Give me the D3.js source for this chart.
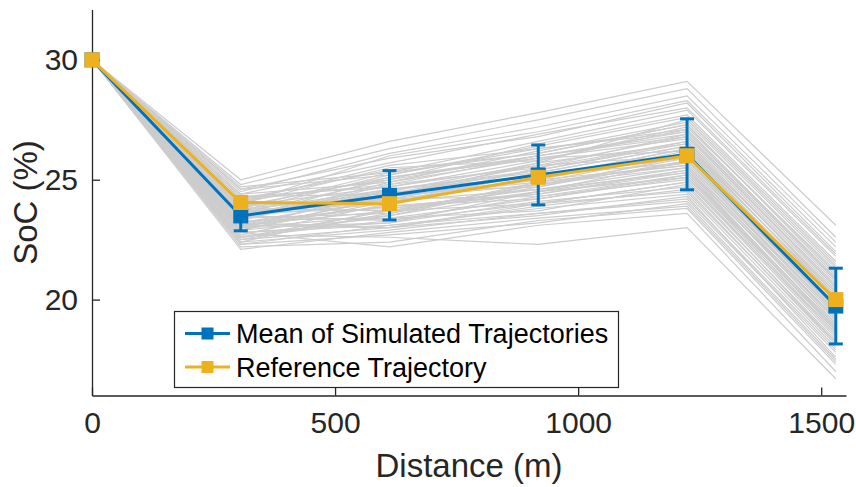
<!DOCTYPE html>
<html>
<head>
<meta charset="utf-8">
<script src="https://cdn.jsdelivr.net/npm/d3@7/dist/d3.min.js"></script>
<style>
  html, body { margin: 0; padding: 0; background: #fff; }
  svg { display: block; font-family: "Liberation Sans", Arial, Helvetica, sans-serif; }
</style>
</head>
<body>
<svg id="chart" width="856" height="487"></svg>
<script>
// Distance along the route (m) at each checkpoint
const distance = [0, 306, 612, 918, 1224, 1530];

// Mean SoC of the simulated runs and its standard deviation
const meanSoC = [30, 23.49, 24.35, 25.2, 26.06, 19.73];
const stdSoC  = [0, 0.62, 1.03, 1.25, 1.48, 1.58];

// Reference SoC trajectory
const refSoC = [30, 24.05, 24.0, 25.1, 26.0, 20.0];

// Individual simulated SoC trajectories (%)
const simulated = [
  [30, 23.5, 24.6, 25.3, 26.4, 20.1],
  [30, 22.8, 23.2, 24.5, 25.1, 18.6],
  [30, 24.2, 25.4, 26.1, 27.3, 21.0],
  [30, 23.1, 23.9, 24.2, 25.2, 18.9],
  [30, 22.4, 22.9, 23.6, 24.1, 17.8],
  [30, 24.6, 25.9, 26.8, 28.2, 22.0],
  [30, 23.8, 24.3, 25.7, 26.5, 20.3],
  [30, 22.6, 23.7, 24.0, 24.9, 18.4],
  [30, 23.3, 24.8, 25.5, 26.9, 20.5],
  [30, 24.0, 24.1, 25.0, 25.6, 19.2],
  [30, 22.2, 22.4, 23.3, 23.8, 17.3],
  [30, 23.7, 25.2, 26.4, 27.6, 21.5],
  [30, 23.0, 23.5, 24.8, 25.9, 19.6],
  [30, 24.4, 24.9, 25.9, 26.2, 19.9],
  [30, 22.9, 24.1, 24.6, 25.5, 19.0],
  [30, 23.6, 23.8, 24.4, 25.3, 18.7],
  [30, 25.0, 26.6, 27.8, 29.1, 23.1],
  [30, 23.2, 23.0, 23.9, 24.6, 18.1],
  [30, 22.5, 23.6, 24.9, 26.1, 19.8],
  [30, 24.1, 25.6, 26.3, 27.0, 20.8],
  [30, 23.4, 24.5, 24.7, 25.8, 19.4],
  [30, 22.7, 22.6, 22.3, 23.0, 16.7],
  [30, 23.9, 24.7, 25.8, 27.1, 20.9],
  [30, 23.0, 24.2, 25.2, 25.7, 19.3],
  [30, 24.3, 24.4, 25.4, 26.6, 20.2],
  [30, 22.3, 23.1, 23.8, 24.4, 18.0],
  [30, 23.6, 25.0, 26.0, 26.8, 20.6],
  [30, 24.7, 25.3, 26.6, 27.9, 21.8],
  [30, 22.9, 23.4, 23.7, 24.8, 18.2],
  [30, 23.5, 24.0, 25.1, 26.3, 19.9],
  [30, 23.1, 24.4, 25.6, 26.0, 19.5],
  [30, 24.0, 25.5, 25.8, 27.2, 21.2],
  [30, 22.1, 22.8, 23.4, 23.9, 17.4],
  [30, 23.8, 23.7, 24.5, 25.4, 18.8],
  [30, 23.3, 24.9, 26.2, 27.4, 21.3],
  [30, 22.6, 23.3, 24.3, 25.0, 18.5],
  [30, 24.5, 26.1, 27.2, 28.5, 22.4],
  [30, 23.2, 24.3, 24.9, 25.6, 19.1],
  [30, 22.8, 22.2, 23.1, 23.6, 17.0],
  [30, 23.9, 25.1, 25.9, 26.7, 20.4],
  [30, 23.4, 23.6, 24.7, 26.0, 19.6],
  [30, 24.2, 24.8, 26.0, 26.9, 20.7],
  [30, 22.4, 23.8, 24.6, 25.3, 18.9],
  [30, 23.7, 24.6, 25.4, 26.5, 20.0],
  [30, 23.0, 23.2, 24.1, 24.7, 18.3],
  [30, 24.8, 26.3, 27.5, 28.8, 22.6],
  [30, 23.5, 24.2, 24.3, 25.2, 18.7],
  [30, 22.7, 24.0, 25.3, 26.4, 20.1],
  [30, 23.6, 24.5, 25.7, 27.5, 21.4],
  [30, 23.1, 23.0, 23.5, 24.3, 17.6],
  [30, 23.9, 24.2, 24.8, 25.5, 19.0],
  [30, 22.5, 23.0, 24.0, 24.9, 18.6],
  [30, 24.1, 25.0, 26.5, 27.7, 21.6],
  [30, 23.3, 23.4, 24.2, 25.1, 18.8],
  [30, 22.9, 24.3, 25.0, 26.2, 20.0],
  [30, 24.4, 25.7, 26.9, 28.0, 21.9],
  [30, 23.6, 24.4, 25.2, 25.9, 19.5],
  [30, 22.3, 22.7, 23.2, 24.0, 17.5],
  [30, 23.8, 25.3, 26.1, 27.3, 21.1],
  [30, 23.2, 23.9, 24.4, 25.4, 19.2],
  [30, 24.6, 25.2, 26.3, 27.1, 20.9],
  [30, 23.0, 24.6, 25.1, 26.3, 20.2],
  [30, 23.5, 23.3, 24.0, 24.5, 18.2],
  [30, 22.6, 23.5, 24.5, 25.8, 19.7],
  [30, 24.3, 24.7, 25.6, 26.8, 20.5],
  [30, 23.4, 25.1, 26.0, 27.0, 20.8],
  [30, 22.8, 23.1, 23.6, 24.2, 17.9],
  [30, 23.7, 24.0, 25.5, 26.6, 20.3],
  [30, 24.0, 26.0, 27.0, 28.3, 22.2],
  [30, 23.1, 23.7, 24.8, 25.7, 19.4]
];

// Axis ticks and labels
const xTicks = [0, 500, 1000, 1500];
const yTicks = [20, 25, 30];
const xLabel = "Distance (m)";
const yLabel = "SoC (%)";
const legendLabels = ["Mean of Simulated Trajectories", "Reference Trajectory"];

const axisColor = "#262626";
const blue = "#0072BD";
const yellow = "#EDB120";
const gray = "#cccccc";

const svg = d3.select("#chart");
const plotLeft = 92, plotRight = 846, plotTop = 9.5, plotBottom = 395.5;

const x = d3.scaleLinear().domain([0, 1551]).range([plotLeft, plotRight]);
const y = d3.scaleLinear().domain([16, 32.1]).range([plotBottom, plotTop]);

const line = d3.line()
  .x((d, i) => x(distance[i]))
  .y(d => y(d));

// Simulated runs
svg.append("g")
  .selectAll("path")
  .data(simulated)
  .join("path")
  .attr("d", line)
  .attr("fill", "none")
  .attr("stroke", gray)
  .attr("stroke-width", 1.2);

// Axes (inward ticks, no box)
const xAxis = d3.axisBottom(x).tickValues(xTicks).tickFormat(d3.format("d"))
  .tickSizeInner(-8).tickSizeOuter(0).tickPadding(16);
const yAxis = d3.axisLeft(y).tickValues(yTicks).tickFormat(d3.format("d"))
  .tickSizeInner(-8).tickSizeOuter(0).tickPadding(14);

const gx = svg.append("g").attr("transform", `translate(0,${plotBottom})`).call(xAxis);
const gy = svg.append("g").attr("transform", `translate(${plotLeft},0)`).call(yAxis);

[gx, gy].forEach(g => {
  g.select(".domain").attr("stroke", axisColor).attr("stroke-width", 1.3);
  g.selectAll(".tick line").attr("stroke", axisColor).attr("stroke-width", 1.3);
  g.selectAll(".tick text")
    .attr("fill", axisColor)
    .style("font-size", "30px")
    .style("font-family", "'Liberation Sans', Arial, sans-serif");
});
gx.selectAll(".tick text").attr("dy", "0.71em");

// Axis titles
svg.append("text")
  .attr("x", (plotLeft + plotRight) / 2)
  .attr("y", 477)
  .attr("text-anchor", "middle")
  .attr("fill", axisColor)
  .style("font-size", "33px")
  .text(xLabel);

svg.append("text")
  .attr("transform", `translate(37,${(plotTop + plotBottom) / 2}) rotate(-90)`)
  .attr("text-anchor", "middle")
  .attr("fill", axisColor)
  .style("font-size", "33px")
  .text(yLabel);

// Mean trajectory with error bars
svg.append("path")
  .datum(meanSoC)
  .attr("d", line)
  .attr("fill", "none")
  .attr("stroke", blue)
  .attr("stroke-width", 3);

const eb = svg.append("g").attr("stroke", blue).attr("stroke-width", 3);
meanSoC.forEach((m, i) => {
  if (stdSoC[i] <= 0) return;
  const cx = x(distance[i]);
  const y0 = y(m - stdSoC[i]), y1 = y(m + stdSoC[i]);
  eb.append("line").attr("x1", cx).attr("x2", cx).attr("y1", y0).attr("y2", y1);
  eb.append("line").attr("x1", cx - 7).attr("x2", cx + 7).attr("y1", y0).attr("y2", y0);
  eb.append("line").attr("x1", cx - 7).attr("x2", cx + 7).attr("y1", y1).attr("y2", y1);
});

const ms = 15;
svg.append("g").selectAll("rect")
  .data(meanSoC)
  .join("rect")
  .attr("x", (d, i) => x(distance[i]) - ms / 2)
  .attr("y", d => y(d) - ms / 2)
  .attr("width", ms).attr("height", ms)
  .attr("fill", blue);

// Reference trajectory
svg.append("path")
  .datum(refSoC)
  .attr("d", line)
  .attr("fill", "none")
  .attr("stroke", yellow)
  .attr("stroke-width", 3);

svg.append("g").selectAll("rect")
  .data(refSoC)
  .join("rect")
  .attr("x", (d, i) => x(distance[i]) - ms / 2)
  .attr("y", d => y(d) - ms / 2)
  .attr("width", ms).attr("height", ms)
  .attr("fill", yellow);

// Legend
const lg = svg.append("g");
lg.append("rect")
  .attr("x", 174.5).attr("y", 311.5)
  .attr("width", 444).attr("height", 76)
  .attr("fill", "#fff")
  .attr("stroke", axisColor)
  .attr("stroke-width", 1.2);

const legendColors = [blue, yellow];
legendLabels.forEach((lab, i) => {
  const cy = 333.5 + i * 33.5;
  lg.append("line")
    .attr("x1", 185).attr("x2", 230)
    .attr("y1", cy).attr("y2", cy)
    .attr("stroke", legendColors[i]).attr("stroke-width", 3);
  lg.append("rect")
    .attr("x", 207.5 - 6).attr("y", cy - 6)
    .attr("width", 12).attr("height", 12)
    .attr("fill", legendColors[i]);
  lg.append("text")
    .attr("x", 236).attr("y", cy + 9.5)
    .attr("fill", "#000")
    .style("font-size", "27px")
    .text(lab);
});
</script>
</body>
</html>
